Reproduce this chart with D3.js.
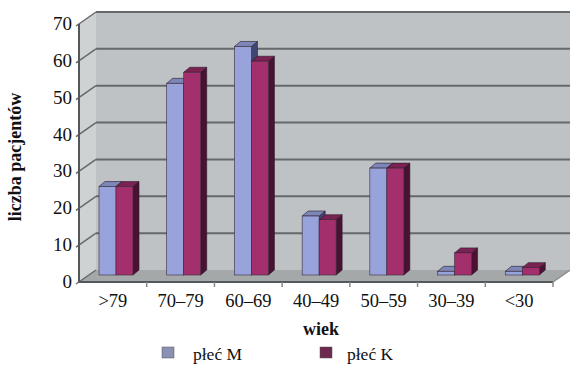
<!DOCTYPE html>
<meta charset="utf-8">
<style>
body { margin: 0; background: #fff; }
text { font-family: "Liberation Serif", "Times New Roman", serif; fill: #111; }
</style>
<body>
<svg width="570" height="370"></svg>
</body>
<script src="https://d3js.org/d3.v7.min.js"></script>
<script>

// data
var categories = [">79", "70\u201379", "60\u201369", "40\u201349", "50\u201359", "30\u201339", "<30"];
var menValues = [24, 52, 62, 16, 29, 1, 1];
var womenValues = [24, 55, 58, 15, 29, 6, 2];
var yTicks = [0, 10, 20, 30, 40, 50, 60, 70];
var seriesNames = ["p\u0142e\u0107 M", "p\u0142e\u0107 K"];

var svg = d3.select("svg");

// front plane of the 3d box, back wall is shifted by depth
var x0 = 79, x1 = 553, yBase = 282, yTop = 24;
var ddx = 17, ddy = -12;

var x = d3.scaleBand().domain(categories).range([x0, x1]);
var y = d3.scaleLinear().domain([0, 70]).range([yBase, yTop]);

// side wall
svg.append("polygon")
    .attr("points", [[x0, yTop], [x0 + ddx, yTop + ddy], [x0 + ddx, yBase + ddy], [x0, yBase]].join(" "))
    .attr("fill", "#cfd2d2");

// back wall
svg.append("rect")
    .attr("x", x0 + ddx).attr("y", yTop + ddy)
    .attr("width", 570 - x0 - ddx).attr("height", yBase - yTop)
    .attr("fill", "#bec2c4");

// floor
svg.append("polygon")
    .attr("points", [[x0, yBase], [x1, yBase], [x1 + ddx, yBase + ddy], [x0 + ddx, yBase + ddy]].join(" "))
    .attr("fill", "#a4a8a8");

// gridlines
var grid = svg.append("g");
yTicks.forEach(function(t) {
  if (t > 0) {
    grid.append("line")
        .attr("x1", x0 + ddx).attr("x2", 570)
        .attr("y1", y(t) + ddy).attr("y2", y(t) + ddy)
        .attr("stroke", "#66696b").attr("stroke-width", 2);
  }
  grid.append("line")
      .attr("x1", x0 - 3).attr("y1", y(t) + 2)
      .attr("x2", x0 + ddx).attr("y2", y(t) + ddy)
      .attr("stroke", "#66696b").attr("stroke-width", 1.5);
});

// axis lines
svg.append("line").attr("x1", x0).attr("x2", x0).attr("y1", yTop).attr("y2", yBase)
    .attr("stroke", "#55585a").attr("stroke-width", 2);
svg.append("line").attr("x1", x0).attr("x2", x1).attr("y1", yBase).attr("y2", yBase)
    .attr("stroke", "#55585a").attr("stroke-width", 2);
svg.append("line").attr("x1", x1).attr("x2", x1 + ddx).attr("y1", yBase).attr("y2", yBase + ddy)
    .attr("stroke", "#8a8e8e").attr("stroke-width", 1.5);

// category tick marks
categories.forEach(function(c, i) {
  if (i > 0) {
    svg.append("line")
        .attr("x1", x(c)).attr("x2", x(c)).attr("y1", yBase).attr("y2", yBase + 5)
        .attr("stroke", "#888").attr("stroke-width", 1.5);
  }
});
svg.append("line").attr("x1", x1).attr("x2", x1).attr("y1", yBase).attr("y2", yBase + 5)
    .attr("stroke", "#888").attr("stroke-width", 1.5);

// bars
var barShift = -7, barW = 17, bdx = 6, bdy = -5;
var series = [
  {vals: menValues, off: 20, front: "#98a3dc", top: "#7d86b8", side: "#3f4670"},
  {vals: womenValues, off: 37, front: "#a3306c", top: "#7a2352", side: "#4a1232"}
];
var bars = svg.append("g");
categories.forEach(function(c, i) {
  series.forEach(function(s) {
    var bx = x(c) + s.off;
    var by = y(s.vals[i]) + barShift;
    var bb = yBase + barShift;
    bars.append("polygon")
        .attr("points", [[bx + barW, by], [bx + barW + bdx, by + bdy], [bx + barW + bdx, bb + bdy], [bx + barW, bb]].join(" "))
        .attr("fill", s.side).attr("stroke", "#2a1a2a").attr("stroke-width", 0.6);
    bars.append("polygon")
        .attr("points", [[bx, by], [bx + bdx, by + bdy], [bx + barW + bdx, by + bdy], [bx + barW, by]].join(" "))
        .attr("fill", s.top).attr("stroke", "#2a1a2a").attr("stroke-width", 0.6);
    bars.append("rect")
        .attr("x", bx).attr("y", by).attr("width", barW).attr("height", bb - by)
        .attr("fill", s.front).attr("stroke", "#3a2a3a").attr("stroke-width", 0.6);
  });
});

// y tick labels
svg.append("g").selectAll("text").data(yTicks).join("text")
    .attr("x", 72).attr("y", function(d) { return y(d) + 6; })
    .attr("text-anchor", "end").attr("font-size", 19)
    .text(function(d) { return d; });

// x tick labels
svg.append("g").selectAll("text").data(categories).join("text")
    .attr("x", function(d) { return x(d) + x.bandwidth() / 2; })
    .attr("y", 307)
    .attr("text-anchor", "middle").attr("font-size", 18.5)
    .text(function(d) { return d; });

// axis titles
svg.append("text")
    .attr("transform", "translate(21,157) rotate(-90)")
    .attr("text-anchor", "middle").attr("font-size", 18).attr("font-weight", "bold")
    .text("liczba pacjent\u00f3w");
svg.append("text")
    .attr("x", 321).attr("y", 335)
    .attr("text-anchor", "middle").attr("font-size", 18).attr("font-weight", "bold")
    .text("wiek");

// legend
var legendX = [162, 320];
var textX = [193, 347];
var legendCol = ["#8a8fb4", "#6e2a4e"];
seriesNames.forEach(function(n, i) {
  svg.append("rect")
      .attr("x", legendX[i]).attr("y", 347).attr("width", 12).attr("height", 11)
      .attr("fill", legendCol[i]).attr("stroke", "#555").attr("stroke-width", 0.5);
  svg.append("text")
      .attr("x", textX[i]).attr("y", 360).attr("font-size", 17.5)
      .text(n);
});
</script>
